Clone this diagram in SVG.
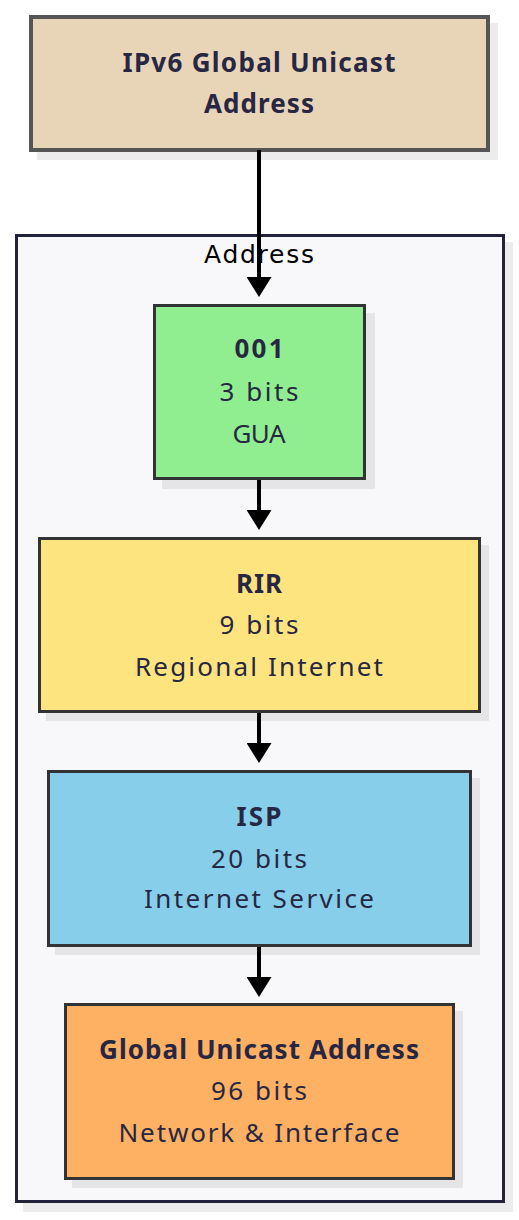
<svg xmlns="http://www.w3.org/2000/svg" width="519" height="1220" viewBox="0 0 519 1220">
<style>
.shadow{fill:#000;fill-opacity:0.075}
.node{stroke:#333;stroke-width:3}
.t{font-family:"Noto Sans","Open Sans","DejaVu Sans",sans-serif;font-size:26px;fill:#272743;text-anchor:middle}
.b{font-weight:bold}
.edge{stroke:#000;stroke-width:4;fill:none}
</style>
<defs>
<marker id="arrow" markerUnits="userSpaceOnUse" markerWidth="20" markerHeight="25" refX="0" refY="12.5" orient="auto" viewBox="0 0 20 25">
<path d="M0,0 L20,12.5 L0,25 Z" fill="#000"/>
</marker>
</defs>
<rect width="519" height="1220" fill="#fff"/>
<g id="cluster-address">
<rect x="23" y="242" width="490" height="970" class="shadow"/>
<rect x="16.5" y="235.5" width="487" height="966" fill="#f8f8fa" stroke="#22223a" stroke-width="3"/>
<text x="259" y="263" font-family="DejaVu Sans, sans-serif" font-size="25" text-anchor="middle" fill="#000" textLength="110" lengthAdjust="spacing">Address</text>
</g>
<g id="node-ipv6">
<rect x="37" y="23" width="461" height="137" class="shadow"/>
<rect x="31" y="17" width="457" height="133" fill="#e8d5b8" stroke="#555" stroke-width="4"/>
<text x="259" y="72" class="t b" textLength="273" lengthAdjust="spacing">IPv6 Global Unicast</text>
<text x="259" y="113" class="t b" textLength="110" lengthAdjust="spacing">Address</text>
</g>
<g id="node-001">
<rect x="162" y="313" width="213" height="176" class="shadow"/>
<rect x="154.5" y="305.5" width="210" height="173" fill="#90ee90" class="node"/>
<text x="259" y="358" class="t b" textLength="49" lengthAdjust="spacing">001</text>
<text x="259" y="401" class="t" textLength="79" lengthAdjust="spacing">3 bits</text>
<text x="259" y="443" class="t" textLength="53" lengthAdjust="spacing">GUA</text>
</g>
<g id="node-rir">
<rect x="46" y="545" width="443" height="176" class="shadow"/>
<rect x="39.5" y="538.5" width="440" height="173" fill="#fee47f" class="node"/>
<text x="259" y="593" class="t b" textLength="46" lengthAdjust="spacing">RIR</text>
<text x="259" y="634" class="t" textLength="79" lengthAdjust="spacing">9 bits</text>
<text x="259" y="676" class="t" textLength="248" lengthAdjust="spacing">Regional Internet</text>
</g>
<g id="node-isp">
<rect x="55" y="778" width="425" height="177" class="shadow"/>
<rect x="48.5" y="771.5" width="422" height="174" fill="#87ceeb" class="node"/>
<text x="259" y="826" class="t b" textLength="45" lengthAdjust="spacing">ISP</text>
<text x="259" y="868" class="t" textLength="96" lengthAdjust="spacing">20 bits</text>
<text x="259" y="908" class="t" textLength="230" lengthAdjust="spacing">Internet Service</text>
</g>
<g id="node-global">
<rect x="72" y="1011" width="391" height="177" class="shadow"/>
<rect x="65.5" y="1004.5" width="388" height="174" fill="#feb063" class="node"/>
<text x="259" y="1059" class="t b" textLength="320" lengthAdjust="spacing">Global Unicast Address</text>
<text x="259" y="1100" class="t" textLength="96" lengthAdjust="spacing">96 bits</text>
<text x="259" y="1142" class="t" textLength="281" lengthAdjust="spacing">Network &amp; Interface</text>
</g>
<g id="connectors">
<line x1="259" y1="150" x2="259" y2="277" class="edge" marker-end="url(#arrow)"/>
<line x1="259" y1="480" x2="259" y2="510" class="edge" marker-end="url(#arrow)"/>
<line x1="259" y1="713" x2="259" y2="743" class="edge" marker-end="url(#arrow)"/>
<line x1="259" y1="947" x2="259" y2="977" class="edge" marker-end="url(#arrow)"/>
</g>
</svg>
